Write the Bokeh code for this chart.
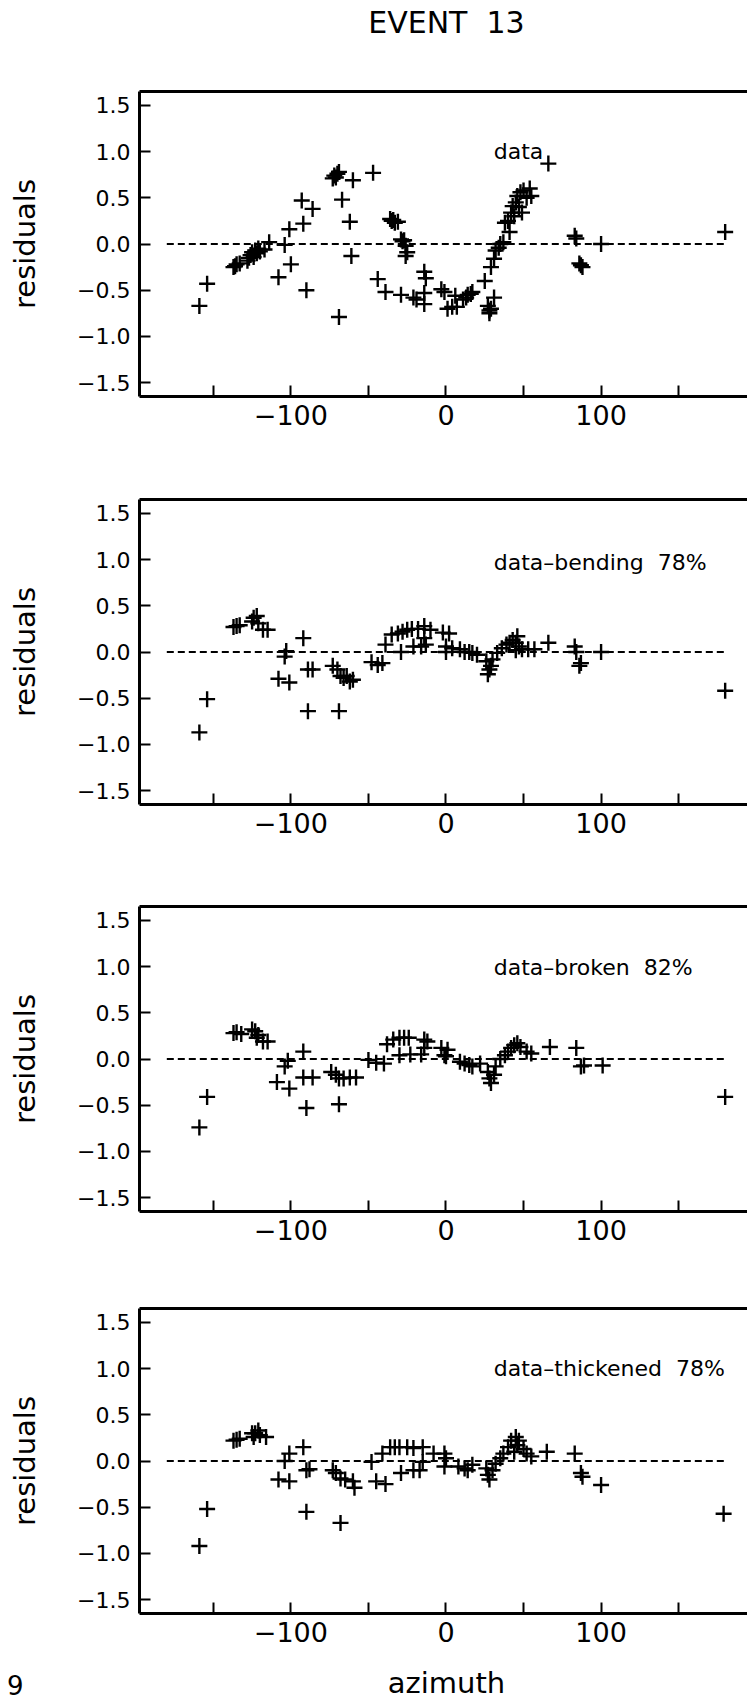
from bokeh.plotting import figure
from bokeh.layouts import column
from bokeh.models import FixedTicker, LinearAxis, Label, Range1d
from bokeh.core.properties import value
from bokeh.embed import file_html
from bokeh.resources import INLINE

# ---------------- data ----------------
title_text = "EVENT \u00a013"
x_axis_title = "azimuth"
y_axis_title = "residuals"
page_mark = "9"
panel_labels = ["data", "data\u2013bending \u00a078%", "data\u2013broken \u00a082%", "data\u2013thickened \u00a078%"]

x_ticks = [-150, -100, -50, 0, 50, 100, 150]
x_tick_labels = ["", "\u2212100", "", "0", "", "100", ""]
y_ticks = [-1.5, -1.0, -0.5, 0.0, 0.5, 1.0, 1.5]
y_tick_labels = ["\u22121.5", "\u22121.0", "\u22120.5", "0.0", "0.5", "1.0", "1.5"]

zero_line_x = [-180, 180]
zero_line_y = [0.0, 0.0]

az1 = [-159, -154, -137, -136, -135, -133, -128, -127, -126, -125, -124, -123, -122, -121, -120, -117,
       -114, -108, -104, -101, -100, -93, -92, -90, -86,
       -73, -72, -71, -70, -69, -67, -69, -62, -61, -60,
       -47, -44, -39, -36, -35, -34, -33, -31,
       -29, -28, -27, -26, -25, -26, -29, -21, -19, -14, -13, -14, -14,
       -3, -1, 1, 4, 7, 6, 11, 13, 14, 16, 17,
       25, 27, 28, 28, 29, 31, 29,
       31, 32, 34, 35, 37, 38, 40, 41, 42, 43, 44, 45, 46, 47, 48, 49, 50, 52, 54, 55,
       66, 83, 84, 86, 87, 88, 100, 180]
res1 = [-0.67, -0.43, -0.25, -0.24, -0.22, -0.21, -0.18, -0.15, -0.12, -0.09, -0.14, -0.07, -0.10, -0.05, -0.08, -0.06,
        0.02, -0.36, -0.01, 0.16, -0.22, 0.47, 0.22, -0.50, 0.38,
        0.71, 0.74, 0.72, 0.76, 0.78, 0.48, -0.79, 0.24, -0.13, 0.69,
        0.77, -0.38, -0.52, 0.27, 0.25, 0.26, 0.23, 0.24,
        0.05, 0.03, 0.04, -0.02, -0.09, -0.13, -0.55, -0.58, -0.60, -0.30, -0.37, -0.53, -0.65,
        -0.49, -0.52, -0.70, -0.68, -0.68, -0.56, -0.60, -0.58, -0.55, -0.54, -0.52,
        -0.40, -0.67, -0.72, -0.75, -0.70, -0.58, -0.25,
        -0.16, -0.07, -0.04, 0.00, 0.02, 0.23, 0.25, 0.13, 0.34, 0.41, 0.30, 0.45, 0.52, 0.40, 0.56, 0.34, 0.58, 0.50, 0.60, 0.52,
        0.87, 0.09, 0.06, -0.21, -0.23, -0.25, 0.00, 0.13]

az2 = [-159, -154, -137, -135, -133, -125, -124, -122, -121, -118, -115,
       -108, -104, -103, -101, -92, -89, -86, -89,
       -73, -70, -68, -66, -64, -62, -60, -69,
       -48, -44, -41, -39, -35, -31, -28, -25, -22, -18, -14, -10, -2,
       -29, -21, -16, -14, -13, 0, 0,
       2, 4, 9, 12, 15, 17, 20, 26, 27, 28, 29, 30,
       33, 36, 39, 41, 43, 45, 46, 47, 49, 53, 57, 45,
       66, 83, 84, 86, 87, 100, 180]
res2 = [-0.87, -0.51, 0.27, 0.28, 0.29, 0.33, 0.37, 0.39, 0.31, 0.24, 0.24,
        -0.29, -0.05, 0.01, -0.33, 0.15, -0.19, -0.19, -0.64,
        -0.15, -0.19, -0.26, -0.28, -0.26, -0.32, -0.30, -0.64,
        -0.11, -0.14, -0.12, 0.08, 0.19, 0.20, 0.22, 0.24, 0.25, 0.25, 0.28, 0.24, 0.21,
        0.00, 0.06, 0.06, 0.15, 0.08, 0.06, 0.00,
        0.20, 0.04, 0.03, 0.00, 0.00, -0.01, -0.03, -0.10, -0.24, -0.19, -0.15, -0.08,
        -0.01, 0.04, 0.08, 0.10, 0.13, 0.10, 0.17, 0.06, 0.03, 0.03, 0.03, 0.02,
        0.10, 0.06, 0.00, -0.15, -0.12, 0.00, -0.42]

az3 = [-159, -154, -137, -135, -132, -125, -123, -122, -121, -118, -115,
       -109, -104, -102, -101, -92, -92, -86, -90,
       -74, -71, -69, -66, -62, -58, -69,
       -50, -45, -40, -38, -34, -30, -27, -24, -14, -12,
       -30, -23, -16, -14, -3, 0,
       1, -1, 9, 12, 15, 17, 22, 27, 28, 29, 31, 32,
       35, 38, 40, 42, 44, 46, 48, 52, 55,
       67, 84, 87, 89, 101, 180]
res3 = [-0.74, -0.41, 0.28, 0.29, 0.27, 0.32, 0.30, 0.23, 0.26, 0.19, 0.19,
        -0.25, -0.08, -0.02, -0.32, 0.08, -0.20, -0.20, -0.53,
        -0.14, -0.17, -0.21, -0.21, -0.20, -0.20, -0.49,
        -0.01, -0.04, -0.05, 0.16, 0.21, 0.23, 0.23, 0.23, 0.21, 0.19,
        0.04, 0.05, 0.05, 0.12, 0.12, 0.03,
        0.10, 0.04, -0.03, -0.05, -0.065, -0.08, -0.05, -0.14, -0.21, -0.26, -0.17, -0.08,
        0.00, 0.04, 0.08, 0.12, 0.15, 0.17, 0.13, 0.08, 0.06,
        0.13, 0.12, -0.08, -0.07, -0.07, -0.41]

az4 = [-159, -154, -137, -135, -133, -125, -124, -123, -121, -120, -116,
       -108, -101, -104, -101, -92, -90, -88, -90,
       -73, -71, -68, -65, -60, -59, -68,
       -48, -45, -39, -41, -36, -33, -30, -25, -21, -15, -8,
       -29, -21, -17, -15, -1, 0, -1,
       8, 12, 14, 17, 26, 27, 28, 30, 32,
       35, 37, 40, 42, 45, 46, 47, 44, 50, 52, 55,
       65, 83, 87, 88, 100, 179]
res4 = [-0.92, -0.52, 0.22, 0.23, 0.24, 0.30, 0.26, 0.30, 0.33, 0.28, 0.26,
        -0.20, -0.22, 0.00, 0.08, 0.15, -0.10, -0.09, -0.55,
        -0.10, -0.13, -0.19, -0.20, -0.22, -0.29, -0.67,
        -0.01, -0.22, -0.25, 0.08, 0.15, 0.15, 0.15, 0.15, 0.14, 0.15, 0.08,
        -0.13, -0.10, -0.10, -0.01, 0.08, 0.03, -0.06,
        -0.06, -0.08, -0.10, -0.04, -0.08, -0.15, -0.20, -0.10, -0.03,
        0.03, 0.08, 0.15, 0.22, 0.26, 0.17, 0.22, 0.10, 0.13, 0.08, 0.05,
        0.10, 0.08, -0.13, -0.17, -0.26, -0.57]

label_x = 30.8
label_y = [1.0, 0.97, 0.99, 1.0]

# ---------------- layout ----------------
FONT = "DejaVu Sans"
W = 747
LEFT = 139
X_START, X_END = -197.6, 194.4
Y_START, Y_END = -1.65, 1.65


def bare_figure(height):
    f = figure(width=W, height=height, output_backend="svg", toolbar_location=None,
               x_range=Range1d(X_START, X_END), y_range=Range1d(0, height),
               min_border_left=LEFT, min_border_right=0, min_border_top=0, min_border_bottom=0,
               x_axis_type=None, y_axis_type=None)
    f.outline_line_color = None
    f.grid.visible = False
    f.background_fill_color = "white"
    f.border_fill_color = "white"
    return f


# header with the title
HEAD_H = 62
head = bare_figure(HEAD_H)
head.text(x=[0.3], y=[HEAD_H - 22], text=[title_text], text_font=value(FONT),
          text_font_size=value("30px"), text_align="center", text_baseline="alphabetic",
          text_color="black")

heights = [408, 400, 400, 385]
tops = [29, 29, 36, 38]
FRAME_H = 305

series = [(az1, res1), (az2, res2), (az3, res3), (az4, res4)]
figs = [head]
for i, (az, res) in enumerate(series):
    h = heights[i]
    p = figure(width=W, height=h, output_backend="svg", toolbar_location=None,
               x_range=Range1d(X_START, X_END), y_range=Range1d(Y_START, Y_END),
               min_border_left=LEFT, min_border_right=0,
               min_border_top=tops[i], min_border_bottom=h - tops[i] - FRAME_H,
               x_axis_location="below", y_axis_location="left")
    p.outline_line_color = None
    p.grid.visible = False
    p.background_fill_color = "white"
    p.border_fill_color = "white"

    xa = p.xaxis[0]
    xa.ticker = FixedTicker(ticks=x_ticks)
    xa.major_label_overrides = {t: s for t, s in zip(x_ticks, x_tick_labels)}
    xa.axis_line_width = 3
    xa.major_tick_in = 11
    xa.major_tick_out = 0
    xa.major_tick_line_width = 2
    xa.minor_tick_line_color = None
    xa.major_label_text_font = FONT
    xa.major_label_text_font_size = "27px"
    xa.major_label_text_color = "black"
    xa.major_label_standoff = 8

    ya = p.yaxis[0]
    ya.ticker = FixedTicker(ticks=y_ticks)
    ya.major_label_overrides = {t: s for t, s in zip(y_ticks, y_tick_labels)}
    ya.axis_line_width = 3
    ya.major_tick_in = 11
    ya.major_tick_out = 0
    ya.major_tick_line_width = 2
    ya.minor_tick_line_color = None
    ya.major_label_text_font = FONT
    ya.major_label_text_font_size = "22px"
    ya.major_label_text_color = "black"
    ya.major_label_standoff = 9
    ya.axis_label = y_axis_title
    ya.axis_label_text_font = FONT
    ya.axis_label_text_font_size = "29px"
    ya.axis_label_text_font_style = "normal"
    ya.axis_label_text_color = "black"
    ya.axis_label_standoff = 32

    top_axis = LinearAxis(ticker=FixedTicker(ticks=[]), axis_line_width=3,
                          major_tick_line_color=None, minor_tick_line_color=None,
                          major_label_text_font_size="0px", major_label_standoff=0)
    p.add_layout(top_axis, "above")

    p.line(zero_line_x, zero_line_y, line_color="black", line_width=2, line_dash="7 4")
    p.scatter(az, res, marker="cross", size=16, line_width=2.4, line_color="black")

    p.add_layout(Label(x=label_x, y=label_y[i], text=panel_labels[i], text_font=FONT,
                       text_font_size="22px", text_color="black",
                       text_align="left", text_baseline="alphabetic"))
    figs.append(p)

# footer with the x-axis title and the page mark
FOOT_H = 44
foot = bare_figure(FOOT_H)
foot.text(x=[0.3], y=[17], text=[x_axis_title], text_font=value(FONT),
          text_font_size=value("29px"), text_align="center", text_baseline="alphabetic",
          text_color="black")
mark_axis = LinearAxis(ticker=FixedTicker(ticks=[15]), major_label_overrides={15: page_mark},
                       axis_line_color=None, major_tick_line_color=None, minor_tick_line_color=None,
                       major_tick_in=0, major_tick_out=0, minor_tick_in=0, minor_tick_out=0,
                       axis_label_standoff=0,
                       major_label_text_font=FONT, major_label_text_font_size="26px",
                       major_label_text_color="black", major_label_standoff=116)
foot.add_layout(mark_axis, "left")
figs.append(foot)

layout = column(*figs, spacing=0)
open("out.html", "w").write(file_html(layout, INLINE))
